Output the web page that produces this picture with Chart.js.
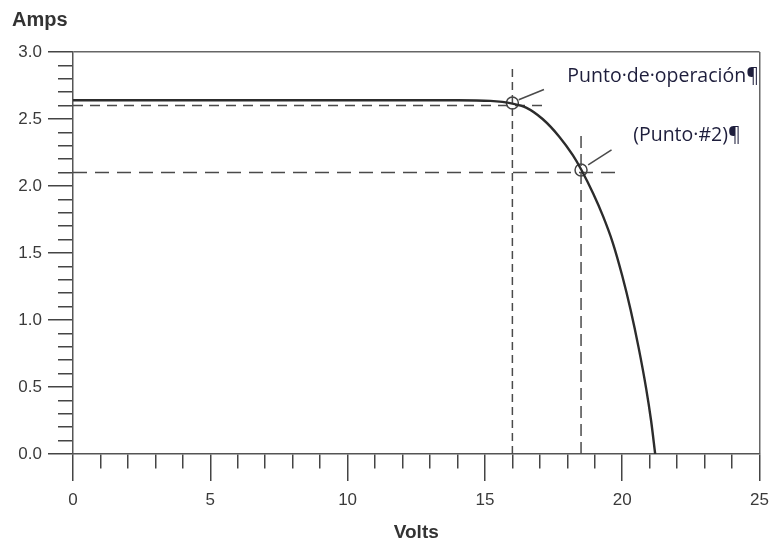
<!DOCTYPE html>
<html>
<head>
<meta charset="utf-8">
<script src="https://cdn.jsdelivr.net/npm/chart.js@4.4.0/dist/chart.umd.min.js"></script>
<style>
  html, body { margin: 0; padding: 0; background: #fff; }
</style>
</head>
<body>
<canvas id="c" width="778" height="556"></canvas>
<script>
// I-V curve
const curveVolts = [0, 5, 10, 14, 15.2, 16, 16.5, 17.1, 17.7, 18.2, 18.5, 18.95, 19.3, 19.65, 20.0, 20.3, 20.6, 20.87, 21.05, 21.2];
const curveAmps  = [2.64, 2.64, 2.64, 2.64, 2.635, 2.615, 2.585, 2.5, 2.37, 2.23, 2.125, 1.94, 1.775, 1.58, 1.33, 1.08, 0.79, 0.49, 0.25, 0];

// circled points
const pointVolts = [16, 18.5];
const pointAmps  = [2.62, 2.12];

// dashed guides
const opHorizX = [0, 17.15], opHorizY = [2.6, 2.6];
const opVertX  = [16, 16],   opVertY  = [0, 2.89];
const p2HorizX = [0, 19.9],  p2HorizY = [2.1, 2.1];
const p2VertX  = [18.5, 18.5], p2VertY = [0, 2.4];

// leader lines to the notes
const lead1X = [16.23, 17.15], lead1Y = [2.644, 2.72];
const lead2X = [18.76, 19.61], lead2Y = [2.158, 2.27];

// notes
const noteTexts = ['Punto\u00b7de\u00b7operación¶', '(Punto\u00b7#2)¶'];
const noteVolts = [18.0, 20.4];
const noteAmps  = [2.82, 2.375];

// labelled ticks
const xMajor = [0, 5, 10, 15, 20, 25];
const yMajor = [0, 0.5, 1, 1.5, 2, 2.5, 3];

const pts = (xs, ys) => xs.map((x, i) => ({x: x, y: ys[i]}));
const isMajor = (list, v) => list.some(m => Math.abs(m - v) < 1e-6);

const ink = '#3a3a3a';
const guide = (xs, ys, dash) => ({
  data: pts(xs, ys), showLine: true, pointRadius: 0,
  borderColor: '#4a4a4a', borderWidth: 1.5, borderDash: dash, tension: 0
});

const notes = {
  id: 'notes',
  afterDatasetsDraw(chart) {
    const {ctx, scales: {x, y}} = chart;
    ctx.save();
    ctx.font = '19.5px "Open Sans"';
    ctx.fillStyle = '#1e1e3c';
    ctx.textBaseline = 'middle';
    noteTexts.forEach((t, i) => {
      ctx.fillText(t, x.getPixelForValue(noteVolts[i]), y.getPixelForValue(noteAmps[i]));
    });
    ctx.restore();
  }
};

new Chart(document.getElementById('c'), {
  type: 'scatter',
  data: {
    datasets: [
      {
        data: pts(curveVolts, curveAmps), showLine: true, pointRadius: 0,
        borderColor: '#2c2c2c', borderWidth: 2.4, cubicInterpolationMode: 'monotone'
      },
      guide(opHorizX, opHorizY, [10, 7]),
      guide(opVertX, opVertY, [8, 5]),
      guide(p2HorizX, p2HorizY, [14, 8]),
      guide(p2VertX, p2VertY, [12, 6]),
      guide(lead1X, lead1Y, []),
      guide(lead2X, lead2Y, []),
      {
        data: pts(pointVolts, pointAmps), showLine: false,
        pointRadius: 6, pointBorderWidth: 1.5,
        pointBackgroundColor: 'rgba(0,0,0,0)', borderColor: '#444'
      }
    ]
  },
  options: {
    responsive: false,
    animation: false,
    layout: { padding: { left: 12, right: 14, top: 0, bottom: 0 } },
    plugins: {
      legend: { display: false },
      tooltip: { enabled: false },
      title: {
        display: true, text: 'Amps', align: 'start', color: '#333',
        font: { family: 'Arial', size: 20, weight: 'bold' },
        padding: { top: 8, bottom: 20 }
      }
    },
    scales: {
      x: {
        type: 'linear', position: 'bottom', min: 0, max: 25,
        afterFit: s => { s.height = 102; },
        border: { display: true, color: '#555', width: 1.5 },
        grid: {
          color: c => (c.tick && c.tick.value === 25) ? '#666' : 'rgba(0,0,0,0)',
          lineWidth: 1.5, tickColor: '#444', tickWidth: 1.5, tickLength: 27,
          tickBorderDash: c => isMajor(xMajor, c.tick.value) ? [] : [14, 100]
        },
        ticks: {
          stepSize: 1, autoSkip: false, maxRotation: 0, padding: 9, color: ink,
          font: { family: 'Arial', size: 17 },
          callback: v => isMajor(xMajor, v) ? String(v) : ''
        },
        title: {
          display: true, text: 'Volts', color: '#333',
          font: { family: 'Arial', size: 19, weight: 'bold' },
          padding: { top: 0, bottom: 12 }
        }
      },
      y: {
        type: 'linear', min: 0, max: 3,
        afterFit: s => { s.width = 61; },
        border: { display: true, color: '#555', width: 1.5 },
        grid: {
          color: c => (c.tick && Math.abs(c.tick.value - 3) < 1e-6) ? '#666' : 'rgba(0,0,0,0)',
          lineWidth: 1.5, tickColor: '#444', tickWidth: 1.5, tickLength: 25,
          tickBorderDash: c => isMajor(yMajor, c.tick.value) ? [] : [0, 10, 100]
        },
        ticks: {
          stepSize: 0.1, autoSkip: false, padding: 6, color: ink,
          font: { family: 'Arial', size: 17 },
          callback: v => isMajor(yMajor, v) ? v.toFixed(1) : ''
        }
      }
    }
  },
  plugins: [notes]
});
</script>
</body>
</html>
